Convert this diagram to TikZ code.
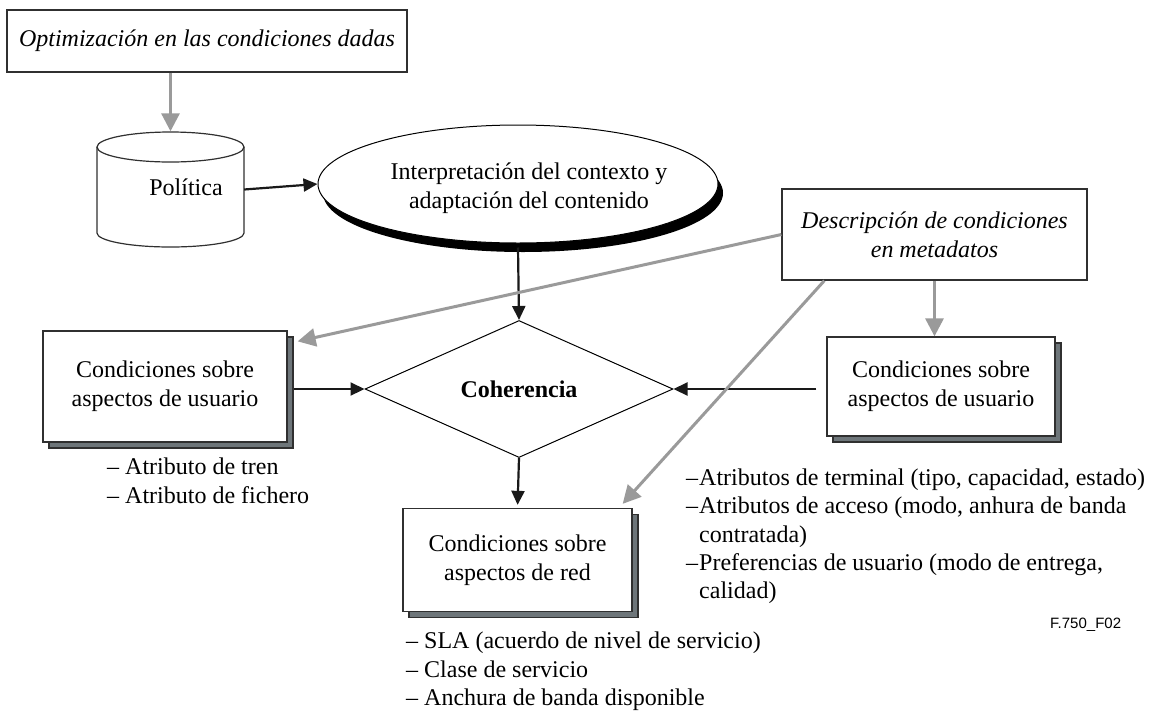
\documentclass[tikz,border=0pt]{standalone}
\usepackage{fontspec}
\setmainfont{Liberation Serif}
\newfontfamily\arialf{Liberation Sans}
\usetikzlibrary{shapes.geometric,arrows.meta,shadows,calc}
\definecolor{garrow}{HTML}{9A9A9A}
\definecolor{shd}{HTML}{6E767A}
\definecolor{bord}{HTML}{303030}
\newcommand{\smdash}{\makebox[13pt][l]{–}}
\begin{document}
\begin{tikzpicture}[x=1pt,y=-1pt,
  txt/.style={font=\fontsize{24}{29}\selectfont, align=center, inner sep=0pt},
  boxs/.style={draw=bord, line width=1.3pt, fill=white, inner sep=0pt, txt},
  shbox/.style={boxs, general shadow={draw=bord, line width=1.1pt, fill=shd, shadow xshift=6pt, shadow yshift=-6pt}},
  blk/.style={draw=black!90, line width=2.2pt, -{Triangle[length=14pt,width=13pt]}},
  gry/.style={draw=garrow, line width=3pt, -{Triangle[length=18pt,width=18pt]}},
  listline/.style={font=\fontsize{24}{29}\selectfont, inner sep=0pt, anchor=base west, text height=16pt, text depth=4pt},
]
\fill[white] (0,0) rectangle (1153,710);
\useasboundingbox (0,0) rectangle (1153,710);

% top box
\node[boxs, minimum width=400pt, minimum height=62pt, font=\itshape\fontsize{24}{29}\selectfont] (opt) at (207,41) {Optimización en las condiciones dadas};

% cylinder
\draw[bord, line width=1.2pt, fill=white] (97,147) -- (97,233) arc[start angle=180, end angle=0, x radius=73.5, y radius=14] -- (244,147);
\draw[bord, line width=1.2pt, fill=white] (170.5,147) ellipse [x radius=73.5, y radius=15];
\node[minimum width=147pt, minimum height=116pt, inner sep=0pt] (pol) at (170.5,189.5) {};
\node[txt] (poltxt) at (186,187) {Política};

% ellipse
\node[ellipse, draw=black, line width=1pt, fill=white, minimum width=400pt, minimum height=118pt, inner sep=0pt,
  general shadow={fill=black, shadow xshift=5pt, shadow yshift=-9pt}] (ell) at (518,184) {};
\node[txt] (elltxt) at (529,188.5) {Interpretación del contexto y\\adaptación del contenido};

% diamond
\node[diamond, draw=black, line width=1pt, aspect=2.2, minimum width=308pt, minimum height=137pt, inner sep=0pt,
  font=\bfseries\fontsize{24}{29}\selectfont] (dia) at (519,389) {Coherencia};

% boxes
\node[shbox, minimum width=244pt, minimum height=111pt] (lbox) at (165,386.5) {Condiciones sobre\\aspectos de usuario};
\node[shbox, minimum width=228pt, minimum height=99pt] (rbox) at (941,386.5) {Condiciones sobre\\aspectos de usuario};
\node[shbox, minimum width=229pt, minimum height=103pt] (net) at (517.5,560) {Condiciones sobre\\aspectos de red};
\node[boxs, minimum width=305pt, minimum height=91pt, font=\itshape\fontsize{24}{29}\selectfont] (desc) at (934.5,234.5) {Descripción de condiciones\\en metadatos};

% lists
\node[listline] (l1) at (107,474) {– Atributo de tren};
\node[listline] (l2) at (107,503) {– Atributo de fichero};
\node[listline] (r1) at (686,485) {\smdash Atributos de terminal (tipo, capacidad, estado)};
\node[listline] (r2) at (686,513) {\smdash Atributos de acceso (modo, anhura de banda};
\node[listline] (r3) at (699,542) {contratada)};
\node[listline] (r4) at (686,570) {\smdash Preferencias de usuario (modo de entrega,};
\node[listline] (r5) at (699,598) {calidad)};
\node[listline] (b1) at (406,648) {– SLA (acuerdo de nivel de servicio)};
\node[listline] (b2) at (406,677) {– Clase de servicio};
\node[listline] (b3) at (406,705) {– Anchura de banda disponible};
\node[anchor=base west, inner sep=0pt, font=\arialf\fontsize{15}{18}\selectfont] (fig) at (1050,628) {F.750\_F02};

% connectors
\draw[gry] (opt.south -| pol.north) -- (pol.north);
\draw[blk] (pol.east) -- (ell.west);
\draw[blk] ([yshift=-4pt]ell.south) -- (dia.north);
\draw[blk, shorten >=3pt] (dia.south) -- (net.north);
\draw[blk] ($(lbox.east |- dia.west)+(6,0)$) -- (dia.west);
\draw[blk] ($(rbox.west |- dia.east)+(-10,0)$) -- (dia.east);
\draw[gry] (desc.south) -- (desc.south |- rbox.north);
\draw[gry] (desc.west) -- ($(lbox.north east)+(10,11)$);
\draw[gry] ($(desc.south west)+(43,0)$) -- ($(net.north east)+(-10,-4)$);
\end{tikzpicture}
\end{document}
